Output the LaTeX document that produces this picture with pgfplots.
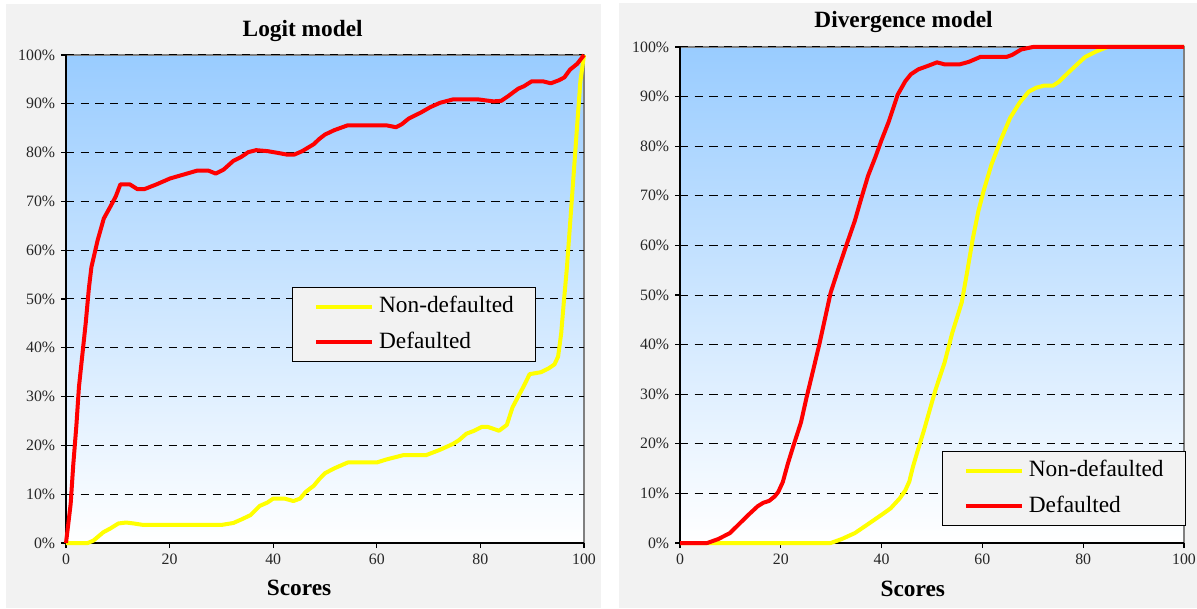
\documentclass[border=0pt]{standalone}
\usepackage{pgfplots}
\pgfplotsset{compat=1.18}
\usepackage{fontspec}
\setmainfont{Liberation Serif}
\definecolor{panel}{HTML}{F2F2F2}
\definecolor{topblue}{HTML}{99CCFF}
\definecolor{frame}{HTML}{808080}
\definecolor{yel}{HTML}{FFFF00}
\definecolor{rd}{HTML}{FF0000}

\pgfplotstableread{
x y
0 0
4.2 0
5.3 0.5
7.2 2.2
8.6 3
10.1 4
11.6 4.2
13.1 4
14.9 3.7
18.2 3.7
24.2 3.7
30 3.7
32.3 4.1
33.8 4.8
35.6 5.7
37.4 7.6
38.9 8.3
40 9.1
42.2 9.1
43.9 8.6
45.2 9.1
46.3 10.5
47.8 11.7
48.9 13.1
50 14.3
51.8 15.3
54.4 16.5
56.6 16.5
60 16.5
61.8 17.1
64 17.7
65.1 18
69.5 18
72.2 19.1
74.7 20.3
75.9 21.1
77.3 22.4
78.8 23
80.3 23.8
81.4 23.8
83.6 23
85.1 24.2
86.2 27.8
87 29.4
88.4 32.2
89.5 34.6
91.7 35
93.2 35.8
94.3 36.6
95 38.2
95.6 43
96.1 49.3
96.7 56.4
97.3 65.2
98 75.5
98.7 85.9
99.3 94.6
100 100
}\logitnon

\pgfplotstableread{
x y
0 0
0.9 8
1.4 16
2.0 24
2.5 32
3.1 38
3.8 45
4.4 52
4.9 56.5
6.1 62
7.3 66.5
8.6 69
9.6 71
10.5 73.5
12.3 73.5
13.8 72.5
15.1 72.5
17.5 73.5
20.1 74.7
22.7 75.5
25.3 76.3
27.5 76.3
28.9 75.7
30.4 76.5
32.3 78.3
33.8 79.1
35.2 80.1
36.7 80.5
38.9 80.3
41.1 79.9
42.6 79.6
44.1 79.6
45.6 80.3
47.8 81.7
48.9 82.8
50 83.7
51.8 84.6
54.4 85.6
57.3 85.6
61.8 85.6
63.7 85.2
64.8 85.8
66.2 87
68.5 88.2
70.3 89.3
72.2 90.2
74.7 90.9
79.6 90.9
81 90.7
82.5 90.5
84 90.6
85.4 91.6
87.3 93.1
88.4 93.6
89.9 94.6
92.1 94.6
93.6 94.2
95.1 94.8
96.2 95.4
97.3 97
98.7 98.2
100 100
}\logitdef

\pgfplotstableread{
x y
0 0
29.9 0
32.1 0.8
34.7 2
37.3 3.8
40.3 5.9
41.8 7
43.6 9
44.7 10.6
45.5 12.4
46.2 15.3
47.1 18.4
48.4 22.7
49.6 27
50.7 30.9
52.5 36.4
54 42.3
55.9 48.5
57 54.8
58.1 61.4
59.2 66.9
60.3 71.2
61.8 76.3
63.7 81.4
65.5 85.7
67.4 88.8
69.2 91
70.7 91.8
72.2 92.2
74 92.2
75.2 93
77 94.8
78.9 96.6
80.4 98
82.6 99.1
84.8 100
100 100
}\divnon

\pgfplotstableread{
x y
0 0
5.4 0
7.6 0.8
9.9 2
11.4 3.5
13.6 5.7
15.4 7.4
16.5 8.1
17.7 8.5
18.8 9.4
19.5 10.3
20.4 12.3
21.4 16
22.5 19.6
24 24.3
25.1 29.3
26.6 35.6
27.7 40.3
28.8 45.4
29.9 50.5
31.4 55.2
33.2 60.6
34.7 65
35.8 68.9
37.3 74
38.8 77.9
39.9 81
41.4 84.9
43.2 90.4
44.7 93.1
45.8 94.5
47.3 95.5
49.2 96.2
51 96.9
52.5 96.5
55.5 96.5
57.3 97
59.6 98
64.8 98
65.9 98.4
67.7 99.5
70 100
100 100
}\divdef

\pgfplotsset{
  panelaxis/.style={
    scale only axis,
    xmin=0, xmax=100, ymin=0, ymax=100,
    xtick={0,20,...,100},
    ytick={0,10,...,100},
    yticklabel={\pgfmathprintnumber{\tick}\%},
    /pgf/number format/assume math mode=true,
    axis x line*=bottom,
    axis y line*=left,
    axis line style={black, line width=1.1pt, -},
    axis background/.style={shade, top color=topblue, bottom color=white, draw=frame, line width=1pt},
    tick align=outside,
    major tick length=3pt,
    tick style={black, line width=0.7pt},
    tick label style={font=\fontsize{9.5}{11}\selectfont, text=black!85},
    ymajorgrids,
    grid style={black, line width=0.6pt, dash pattern=on 5pt off 3.8pt},
    clip=false,
    legend cell align=left,
    legend image code/.code={\draw[#1] (0pt,0pt) -- (33.6pt,0pt);},
    legend style={draw=black, line width=0.7pt, fill=panel,
      font=\fontsize{14}{16}\selectfont,
      inner xsep=13pt, inner ysep=5pt,
      row sep=8.3pt,
      nodes={inner sep=0pt, text height=10pt, text depth=3pt},
      /tikz/every odd column/.append style={column sep=3pt}},
    every axis plot/.append style={line width=2.4pt, line join=round},
  }
}

\begin{document}
\begin{tikzpicture}
\path[use as bounding box] (0pt,0pt) rectangle (718.2pt,364.8pt);
\fill[white] (0pt,0pt) rectangle (718.2pt,364.8pt);
\fill[panel] (3.4pt,0pt) rectangle (360.6pt,362.4pt);
\fill[panel] (371.4pt,0pt) rectangle (718.2pt,363pt);

\node[anchor=base, font=\fontsize{14}{16}\selectfont\bfseries] at (181.6pt,342.7pt) {Logit model};
\node[anchor=base, font=\fontsize{14}{16}\selectfont\bfseries] at (542.1pt,348pt) {Divergence model};
\node[anchor=base, font=\fontsize{14}{16}\selectfont\bfseries] at (179.4pt,7.6pt) {Scores};
\node[anchor=base, font=\fontsize{14}{16}\selectfont\bfseries] at (547.7pt,7.2pt) {Scores};

\begin{axis}[panelaxis,
  at={(39.6pt,39pt)}, anchor=south west,
  width=310.8pt, height=292.8pt,
  legend style={at={(0.436,0.5246)}, anchor=north west}]
\addplot[yel, no markers] table {\logitnon};
\addlegendentry{Non-defaulted}
\addplot[rd, no markers] table {\logitdef};
\addlegendentry{Defaulted}
\end{axis}

\begin{axis}[panelaxis,
  at={(408pt,39pt)}, anchor=south west,
  width=302.4pt, height=297.6pt,
  legend style={at={(0.519,0.1855)}, anchor=north west}]
\addplot[yel, no markers] table {\divnon};
\addlegendentry{Non-defaulted}
\addplot[rd, no markers] table {\divdef};
\addlegendentry{Defaulted}
\end{axis}
\end{tikzpicture}
\end{document}
